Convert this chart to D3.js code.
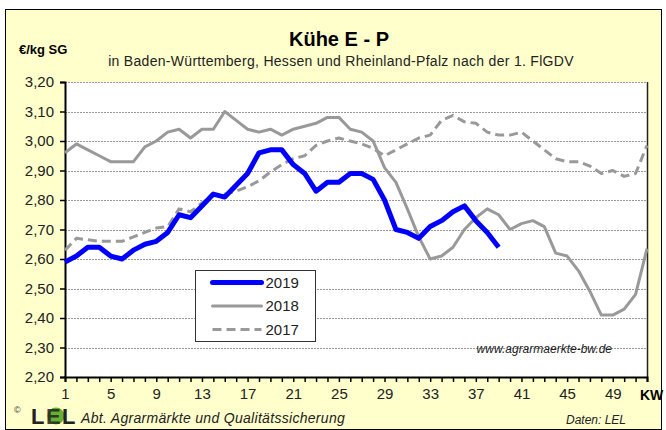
<!DOCTYPE html>
<html>
<head>
<meta charset="utf-8">
<script src="https://cdn.jsdelivr.net/npm/d3@7"></script>
<style>
  body { margin: 0; background: #fff; }
  svg { display: block; font-family: "Liberation Sans", Arial, sans-serif; }
</style>
</head>
<body>
<svg id="chart" width="666" height="430"></svg>
<script>
// data (€/kg SG per Kalenderwoche)
const weeks = d3.range(1, 53)
const xTickWeeks = [1, 5, 9, 13, 17, 21, 25, 29, 33, 37, 41, 45, 49]
const yTicks = [2.2, 2.3, 2.4, 2.5, 2.6, 2.7, 2.8, 2.9, 3.0, 3.1, 3.2]

const v2019 = [2.59, 2.61, 2.64, 2.64, 2.61, 2.60, 2.63, 2.65, 2.66, 2.69,
  2.75, 2.74, 2.78, 2.82, 2.81, 2.85, 2.89, 2.96, 2.97, 2.97,
  2.92, 2.89, 2.83, 2.86, 2.86, 2.89, 2.89, 2.87, 2.80, 2.70,
  2.69, 2.67, 2.71, 2.73, 2.76, 2.78, 2.73, 2.69, 2.64]

const v2018 = [2.96, 2.99, 2.97, 2.95, 2.93, 2.93, 2.93, 2.98, 3.00, 3.03,
  3.04, 3.01, 3.04, 3.04, 3.10, 3.07, 3.04, 3.03, 3.04, 3.02,
  3.04, 3.05, 3.06, 3.08, 3.08, 3.04, 3.03, 3.00, 2.91, 2.86,
  2.77, 2.675, 2.60, 2.61, 2.64, 2.70, 2.74, 2.77, 2.75, 2.70,
  2.72, 2.73, 2.71, 2.62, 2.61, 2.56, 2.49, 2.41, 2.41, 2.43,
  2.48, 2.635]

const v2017 = [2.63, 2.67, 2.665, 2.66, 2.66, 2.66, 2.675, 2.69, 2.705, 2.71,
  2.77, 2.76, 2.79, 2.815, 2.82, 2.83, 2.845, 2.865, 2.895, 2.92,
  2.94, 2.95, 2.985, 3.00, 3.01, 3.00, 2.99, 2.975, 2.95, 2.97,
  2.99, 3.01, 3.02, 3.07, 3.087, 3.065, 3.06, 3.03, 3.02, 3.02,
  3.03, 3.00, 2.97, 2.94, 2.93, 2.93, 2.915, 2.89, 2.90, 2.88,
  2.89, 2.985]

const series = [
  { name: "2019", values: v2019, color: "#0000ff", width: 5, dash: null },
  { name: "2018", values: v2018, color: "#999999", width: 3, dash: null },
  { name: "2017", values: v2017, color: "#999999", width: 3, dash: "9,5" }
]

const svg = d3.select("#chart")

// frame
svg.append("rect")
  .attr("x", 5.5).attr("y", 9.5).attr("width", 656).attr("height", 420)
  .attr("fill", "#ffffcc").attr("stroke", "#000").attr("stroke-width", 1)

const plot = { left: 65, right: 647, top: 82, bottom: 377 }

const x = d3.scaleLinear().domain([1, 52]).range([plot.left, plot.right])
const y = d3.scaleLinear().domain([2.2, 3.2]).range([plot.bottom, plot.top])

svg.append("rect")
  .attr("x", plot.left).attr("y", plot.top)
  .attr("width", plot.right - plot.left).attr("height", plot.bottom - plot.top)
  .attr("fill", "#fff")

// grid
svg.append("g")
  .selectAll("line")
  .data(yTicks.slice(1))
  .join("line")
  .attr("x1", plot.left).attr("x2", plot.right)
  .attr("y1", d => Math.round(y(d)) + 0.5).attr("y2", d => Math.round(y(d)) + 0.5)
  .attr("stroke", "#999").attr("stroke-width", 1).attr("stroke-dasharray", "2,1")

// right border of plot
svg.append("line")
  .attr("x1", plot.right + 0.5).attr("x2", plot.right + 0.5)
  .attr("y1", plot.top).attr("y2", plot.bottom)
  .attr("stroke", "#222").attr("stroke-width", 1.5)

// axes
const yAxis = d3.axisLeft(y).tickValues(yTicks).tickSize(5).tickPadding(6)
  .tickFormat(d => d3.format(".2f")(d).replace(".", ","))
const yg = svg.append("g").attr("transform", `translate(${plot.left},0)`).call(yAxis)
yg.select(".domain").attr("stroke", "#000").attr("stroke-width", 2)
yg.selectAll(".tick line").attr("stroke", "#000").attr("stroke-width", 1.5)
yg.selectAll("text").attr("font-size", 15).attr("fill", "#222")
  .attr("font-family", "Liberation Sans, Arial, sans-serif")

const xAxis = d3.axisBottom(x).tickValues(weeks).tickSize(5).tickPadding(6)
  .tickFormat(d => xTickWeeks.includes(d) ? d : "")
const xg = svg.append("g").attr("transform", `translate(0,${plot.bottom})`).call(xAxis)
xg.select(".domain").attr("stroke", "#000").attr("stroke-width", 2)
xg.selectAll(".tick line").attr("stroke", "#000").attr("stroke-width", 1.5)
xg.selectAll("text").attr("font-size", 15).attr("fill", "#222")
  .attr("font-family", "Liberation Sans, Arial, sans-serif")

svg.append("text").attr("x", 640).attr("y", 400)
  .attr("font-size", 14).attr("font-weight", "bold").text("KW")

// lines
const line = d3.line()
  .x((d, i) => x(weeks[i]))
  .y(d => y(d))

svg.append("g")
  .selectAll("path")
  .data(series.slice().reverse())
  .join("path")
  .attr("d", d => line(d.values))
  .attr("fill", "none")
  .attr("stroke", d => d.color)
  .attr("stroke-width", d => d.width)
  .attr("stroke-dasharray", d => d.dash)
  .attr("stroke-linejoin", "round")

// legend
const legend = svg.append("g").attr("transform", "translate(195.5,270.5)")
legend.append("rect").attr("width", 120).attr("height", 71)
  .attr("fill", "#fff").attr("stroke", "#333").attr("stroke-width", 1)
series.forEach((s, i) => {
  const ly = 12 + i * 23.5
  legend.append("line")
    .attr("x1", 17).attr("x2", 66).attr("y1", ly).attr("y2", ly)
    .attr("stroke", s.color).attr("stroke-width", s.width)
    .attr("stroke-dasharray", s.dash).attr("stroke-linecap", s.dash ? null : "round")
  legend.append("text").attr("x", 70).attr("y", ly + 5)
    .attr("font-size", 15).attr("fill", "#222").text(s.name)
})

// titles
svg.append("text").attr("x", 339).attr("y", 46).attr("text-anchor", "middle")
  .attr("font-size", 20).attr("font-weight", "bold").text("Kühe E - P")
svg.append("text").attr("x", 341).attr("y", 66).attr("text-anchor", "middle")
  .attr("font-size", 14).attr("fill", "#222").attr("letter-spacing", 0.3)
  .text("in Baden-Württemberg, Hessen und Rheinland-Pfalz  nach der 1. FlGDV")
svg.append("text").attr("x", 19).attr("y", 54)
  .attr("font-size", 13).attr("font-weight", "bold").text("€/kg SG")

svg.append("text").attr("x", 612).attr("y", 353).attr("text-anchor", "end")
  .attr("font-size", 12).attr("font-style", "italic").attr("fill", "#222")
  .text("www.agrarmaerkte-bw.de")

// footer
svg.append("text").attr("x", 14).attr("y", 413)
  .attr("font-size", 9).attr("fill", "#333").text("©")
const logo = svg.append("g").attr("font-size", 22).attr("font-weight", "bold").attr("fill", "#222")
logo.append("text").attr("x", 31).attr("y", 424).text("L")
logo.append("circle").attr("cx", 56).attr("cy", 416).attr("r", 8.5).attr("fill", "#66b032")
logo.append("text").attr("x", 46).attr("y", 424).attr("opacity", 0.85).text("E")
logo.append("text").attr("x", 62).attr("y", 424).text("L")
svg.append("text").attr("x", 81).attr("y", 423)
  .attr("font-size", 14).attr("font-style", "italic").attr("fill", "#222")
  .attr("letter-spacing", 0.3)
  .text("Abt. Agrarmärkte und Qualitätssicherung")
svg.append("text").attr("x", 566).attr("y", 424)
  .attr("font-size", 12).attr("font-style", "italic").attr("fill", "#222")
  .text("Daten: LEL")
</script>
</body>
</html>
